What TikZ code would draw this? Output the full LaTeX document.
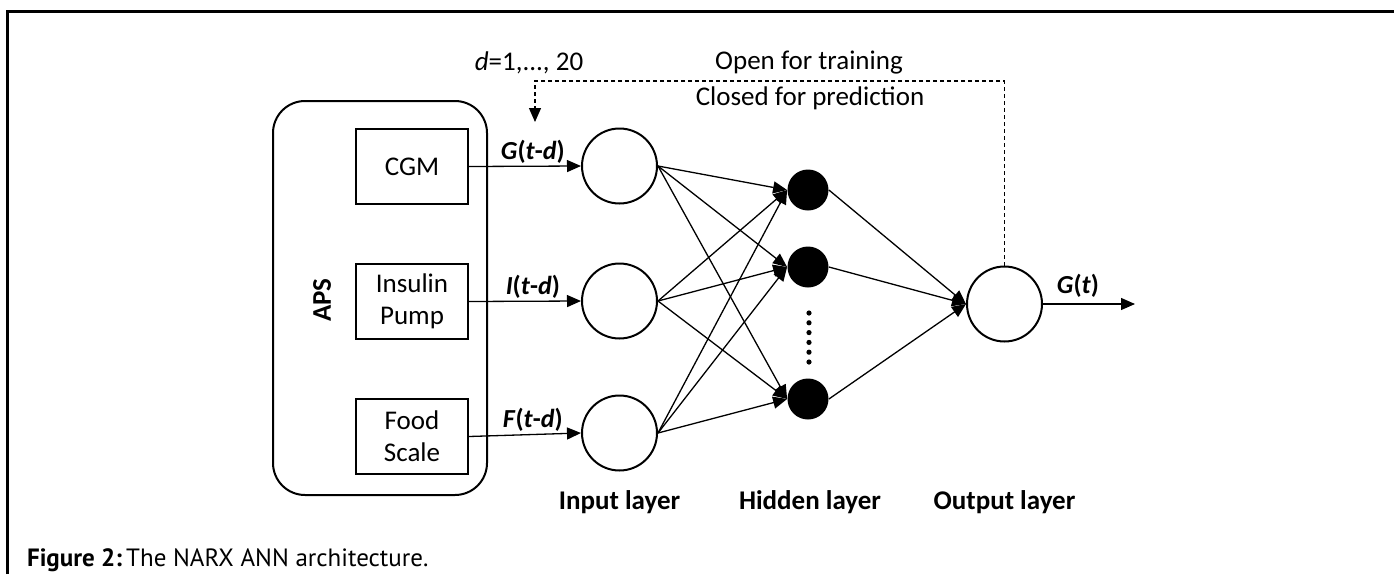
\documentclass[tikz,border=0pt]{standalone}
\usepackage{fontspec}
\setmainfont{Carlito}
\newfontfamily\capfont{PT Sans}
\usetikzlibrary{positioning, arrows.meta, calc}

\begin{document}
\begin{tikzpicture}[
  x=0.5pt, y=-0.5pt,
  font=\fontsize{13.5}{16}\selectfont,
  srcbox/.style={
    draw,
    line width=1pt,
    rectangle,
    minimum width=56pt,
    minimum height=37.5pt,
    align=center,
    inner sep=2pt
  },
  apsbox/.style={draw, line width=1pt, rounded corners=16pt,
    minimum width=107pt, minimum height=197pt},
  inunit/.style={draw, circle, line width=1pt, minimum size=37.5pt, inner sep=0pt},
  hidunit/.style={circle, fill=black, minimum size=20.5pt, inner sep=0pt},
  conn/.style={line width=0.65pt, -{Triangle[length=7pt, width=6pt]}},
  siglabel/.style={font=\bfseries\fontsize{13}{15}\selectfont, inner sep=1pt},
  layerlabel/.style={font=\bfseries\fontsize{13.5}{16}\selectfont},
  feedback/.style={line width=0.6pt, dash pattern=on 2pt off 1.5pt}
]
  \useasboundingbox (0,0) rectangle (1394,574);

  % --- Frame (top and left only) ---
  \draw[line width=1.5pt] (7,574) -- (7,11.5) -- (1394,11.5);

  % --- APS with its three sources ---
  \node[apsbox] (aps) at (380,298) {};
  \node[rotate=90, font=\bfseries\fontsize{13.5}{16}\selectfont] (apslabel) at (322,300) {APS};
  \node[srcbox]                       (cgm)  at (412,166.5) {CGM};
  \node[srcbox, below=29pt of cgm]    (pump) {Insulin\\Pump};
  \node[srcbox, below=29pt of pump]   (food) {Food\\Scale};

  % --- Input, hidden and output units ---
  \node[inunit]                   (in1) at (619.5,166) {};
  \node[inunit, below=29pt of in1] (in2) {};
  \node[inunit, below=27.5pt of in2] (in3) {};

  \node[hidunit] (hid1) at (808,190) {};
  \node[hidunit] (hid2) at (808,267) {};
  \node[hidunit] (hid3) at (808,399) {};
  \foreach \k in {0,...,5}
    \fill (809,{313+9.8*\k}) circle[radius=1.3pt];

  \node[inunit] (out) at (1004.5,304) {};

  % Sources into the input layer
  \draw[conn] (cgm.east)  -- (in1.west) node[siglabel, pos=0.57, above] (lblg) {\textit{G}(\textit{t}-\textit{d})};
  \draw[conn] (pump.east) -- (in2.west) node[siglabel, pos=0.57, above] (lbli) {\textit{I}(\textit{t}-\textit{d})};
  \draw[conn] (food.east) -- (in3.west) node[siglabel, pos=0.57, above] (lblf) {\textit{F}(\textit{t}-\textit{d})};

  % Fully connected layers
  \foreach \i in {1,2,3}
    \foreach \h in {1,2,3}
      \draw[conn] (in\i.east) -- (hid\h.west);
  \foreach \h in {1,2,3}
    \draw[conn] (hid\h.east) -- (out.west);

  % Network output
  \coordinate (gend) at (1135,304);
  \draw[conn] (out.east) -- (gend) node[siglabel, pos=0.38, above=2pt] (lblout) {\textit{G}(\textit{t})};

  % --- Feedback loop ---
  \coordinate (fbtop) at (535,81);
  \coordinate (fbend) at (535,122);
  \draw[feedback, -{Triangle[length=7pt, width=6pt]}] (out.north) |- (fbtop) -- (fbend);
  \node (delays) at (529,63) {\textit{d}=1,..., 20};
  \node (openlbl)  at (809,63) {Open for training};
  \node (closelbl) at (810,98) {Closed for prediction};

  % --- Layer names ---
  \node[layerlabel] (inname)  at (619.5,502) {Input layer};
  \node[layerlabel] (hidname) at (810,502)   {Hidden layer};
  \node[layerlabel] (outname) at (1004.5,502) {Output layer};

  % --- Caption ---
  \node[anchor=west, font=\capfont\fontsize{12.5}{14}\selectfont] (caption) at (20,560)
    {\textbf{Figure 2:}\,The NARX ANN architecture.};

\end{tikzpicture}
\end{document}
